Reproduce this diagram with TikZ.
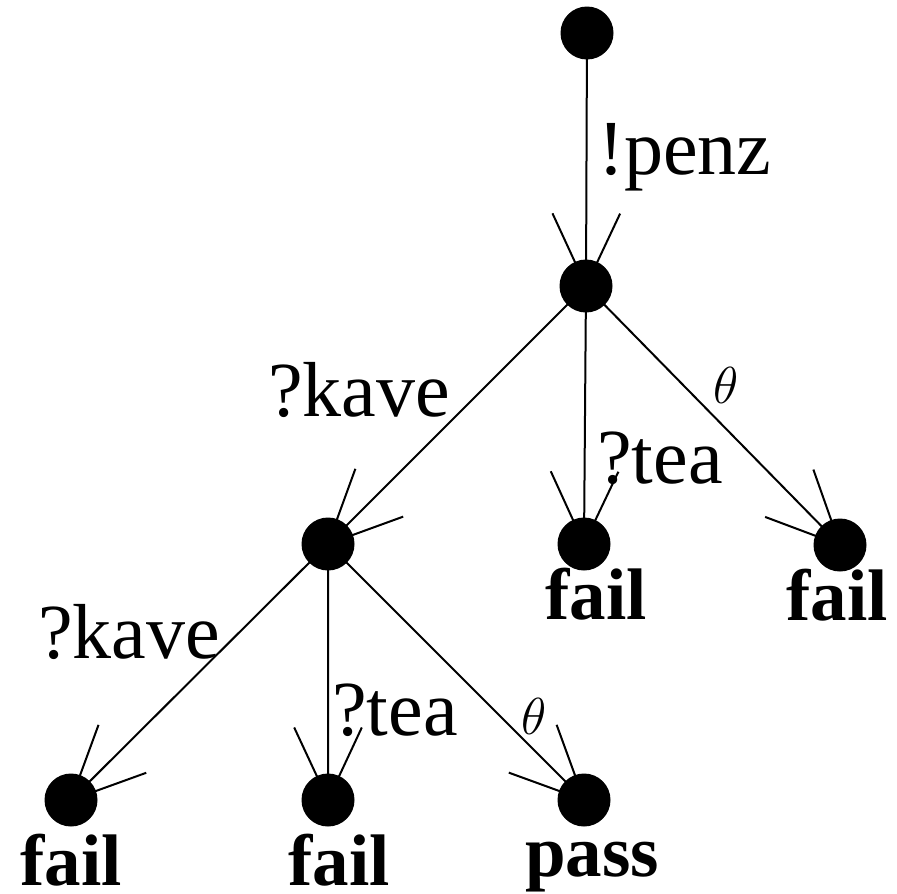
\RequirePackage{fix-cm}
\documentclass[tikz,border=0pt]{standalone}
\usepackage{fontspec}
\setmainfont{Liberation Serif}
\usetikzlibrary{calc,backgrounds}
\begin{document}
\begin{tikzpicture}[x=1pt,y=-1pt,
  state/.style={circle,fill=black,minimum size=53pt,inner sep=0pt},
  edge/.style={line width=2pt},
  lbl/.style={font=\fontsize{78}{80}\selectfont,anchor=base west,inner sep=0pt},
  res/.style={font=\fontsize{73}{75}\selectfont\bfseries,anchor=base west,inner sep=0pt},
  act/.style={font=\fontsize{52}{52}\selectfont,inner sep=0pt}]
\useasboundingbox (0,0) rectangle (897,894);

% states
\node[state] (r)  at (587,33)  {};
\node[state] (n1) at (586,286) {};
\node[state] (n2) at (328,544) {};
\node[state] (n3) at (584,544) {};
\node[state] (n4) at (840,545) {};
\node[state] (n5) at (71,800)  {};
\node[state] (n6) at (328,800) {};
\node[state] (n7) at (584,800) {};

% transitions, each ending in an open V head hidden under the target disc
\begin{pgfonlayer}{background}
\foreach \a/\b in {r/n1, n1/n2, n1/n3, n1/n4, n2/n5, n2/n6, n2/n7} {
  \draw[edge] (\a.center) -- (\b.center)
    (\b.center) -- ($(\b.center)!80pt!25:(\a.center)$)
    (\b.center) -- ($(\b.center)!80pt!-25:(\a.center)$);
}
\end{pgfonlayer}

% action labels
\node[lbl] (l1) at (598,174) {!penz};
\node[lbl] (l2) at (268,416) {?kave};
\node[lbl] (l3) at (597,483) {?tea};
\node[act] (l4) at (726,385) {$\theta$};
\node[lbl] (l5) at (38,658)  {?kave};
\node[lbl] (l6) at (332,735) {?tea};
\node[act] (l7) at (534,716) {$\theta$};

% verdicts
\node[res] (v3) at (545,619) {fail};
\node[res] (v4) at (786,620) {fail};
\node[res] (v5) at (20,885)  {fail};
\node[res] (v6) at (288,885) {fail};
\node[res] (v7) at (525,876) {pass};
\end{tikzpicture}
\end{document}
